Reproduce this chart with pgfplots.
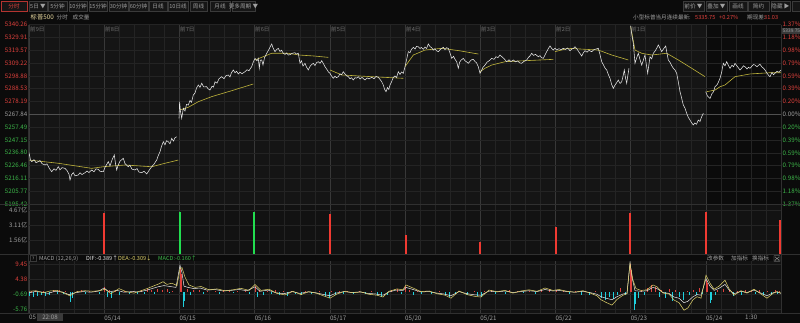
\documentclass[border=0pt]{standalone}
\usepackage{pgfplots}
\pgfplotsset{compat=1.18}
\usepackage{fontspec}
\setmainfont{Noto Sans CJK SC}
\definecolor{bg}{HTML}{0B0B0B}
\definecolor{panel}{HTML}{151515}
\definecolor{gridc}{HTML}{242424}
\definecolor{dayc}{HTML}{383838}
\definecolor{zeroc}{HTML}{505050}
\definecolor{sepc}{HTML}{303030}
\definecolor{upred}{HTML}{E0413C}
\definecolor{dngreen}{HTML}{3DB84A}
\definecolor{lbl}{HTML}{A0A0A0}
\definecolor{dimlbl}{HTML}{707070}
\definecolor{pricec}{HTML}{E6E6E6}
\definecolor{avgc}{HTML}{BFB43C}
\definecolor{cyanc}{HTML}{1FD0DD}
\definecolor{deac}{HTML}{E2D46C}
\definecolor{difc}{HTML}{E8E8E8}
\definecolor{volred}{HTML}{F03A32}
\definecolor{volgreen}{HTML}{22DD50}
\definecolor{tabbg}{HTML}{161616}
\definecolor{tabbd}{HTML}{3A3A3A}
\definecolor{titley}{HTML}{E8D9A0}
\newcommand\tlf{\fontsize{6.2}{7}\selectfont}
\newcommand\smf{\fontsize{5.6}{6.5}\selectfont}
\pgfplotsset{
  panel/.style={
    scale only axis, width=752pt, xmin=0, xmax=752,
    axis line style={draw=none},
    major tick length=0pt, minor tick length=0pt,
    xtick={0,75.2,150.4,225.6,300.8,376,451.2,526.4,601.6,676.8,752},
    minor x tick num=4,
    xmajorgrids, xminorgrids, ymajorgrids,
    major x grid style={dayc,line width=0.5pt},
    minor x grid style={gridc,line width=0.4pt},
    major y grid style={gridc,line width=0.4pt},
    xticklabels={},
    yticklabel style={font=\tlf, anchor=east, inner sep=0pt, xshift=-1.5pt},
    clip=true,
  },
}
\begin{document}
\begin{tikzpicture}[x=1pt,y=1pt]
\fill[bg] (0,0) rectangle (800,323);
\path[use as bounding box] (0,0) rectangle (800,323);
% panel backgrounds
\fill[panel] (29,119) rectangle (705.8,298.4);
\fill[panel!70!bg] (29,68.1) rectangle (781,118);
\fill[panel!70!bg] (29,10) rectangle (781,62);
% ---------------- price panel ----------------
\begin{axis}[panel, at={(29pt,119pt)}, anchor=south west, height=179.4pt,
  ymin=5195.42, ymax=5340.26,
  ytick={5195.42,5205.77,5216.11,5226.46,5236.80,5247.15,5257.49,5267.84,5278.19,5288.53,5298.88,5309.22,5319.57,5329.91,5340.26},
  yticklabels={{\color{dngreen}5195.42},{\color{dngreen}5205.77},{\color{dngreen}5216.11},{\color{dngreen}5226.46},{\color{dngreen}5236.80},{\color{dngreen}5247.15},{\color{dngreen}5257.49},{\color{lbl}5267.84},{\color{upred}5278.19},{\color{upred}5288.53},{\color{upred}5298.88},{\color{upred}5309.22},{\color{upred}5319.57},{\color{upred}5329.91},{\color{upred}5340.26}},
]
\draw[zeroc, line width=0.6pt] (axis cs:0,5267.84) -- (axis cs:752,5267.84);
% average (yellow) lines
\addplot[avgc, line width=0.6pt] coordinates {(0,5230.9)(29.3,5228.3)(62.7,5224.2)(74.3,5225.5)(96,5226.9)(122.7,5225.5)(136,5228.3)(149.3,5230.9)};
\addplot[avgc, line width=0.6pt] coordinates {(151,5271.3)(159.3,5273.5)(169.3,5278.0)(182.7,5282.1)(202.7,5286.9)(224.3,5292.3)};
\addplot[avgc, line width=0.6pt] coordinates {(226,5311.7)(236,5314.9)(242.7,5317.1)(259.3,5317.1)(270,5315.7)(285,5314.9)(299.3,5313.8)};
\addplot[avgc, line width=0.6pt] coordinates {(301,5303.6)(312.7,5299.6)(342.7,5298.2)(374.3,5296.9)};
\addplot[avgc, line width=0.6pt] coordinates {(376,5306.3)(384.3,5315.7)(396,5319.7)(412.7,5321.1)(430,5319.2)(449.3,5316.5)};
\addplot[avgc, line width=0.6pt] coordinates {(451,5302.2)(456,5305.0)(462.7,5307.6)(476,5310.3)(496,5311.1)(524.3,5312.2)};
\addplot[avgc, line width=0.6pt] coordinates {(526,5318.4)(539.3,5321.1)(569.3,5319.7)(582.7,5315.7)(599.3,5311.7)};
\addplot[avgc, line width=0.6pt] coordinates {(601.7,5338.6)(606,5319.7)(612.7,5317.1)(622.7,5315.7)(637.7,5317.1)(649.3,5311.7)(662.7,5305.0)(676,5298.2)};
\addplot[avgc, line width=0.6pt] coordinates {(677.7,5286.1)(686,5287.4)(691,5290.1)(696,5291.5)(706,5298.2)(721,5300.4)(741,5301.4)(752,5301.4)};
% price (white) line
\addplot[pricec, line width=0.55pt] coordinates {
(0,5236.8)(1.5,5231.0)(2.7,5229.6)(5,5231.2)(7,5228.8)(9.3,5229.6)(11,5230.5)(13,5228.0)(16,5226.9)(18,5227.8)(20,5224.6)(22.7,5221.5)(25,5223.8)(27,5222.6)(29.3,5225.5)(31,5223.0)(33,5224.8)(36,5224.2)(38,5222.4)(40,5219.5)(41,5214.8)(42.5,5219.0)(44.3,5220.7)(46,5218.2)(49.3,5218.8)(51,5220.6)(53,5219.2)(56,5220.7)(58,5222.0)(60,5220.8)(62.7,5222.9)(65,5221.4)(67,5223.8)(69.3,5223.4)(71,5221.8)(74.3,5221.5)(76,5225.0)(79.3,5229.6)(81,5226.2)(83,5231.0)(85.3,5235.0)(86.5,5228.0)(87.7,5222.9)(89,5226.5)(91,5230.0)(94.3,5232.3)(96,5228.0)(99.3,5225.5)(101,5226.8)(103,5223.5)(106,5222.9)(108,5224.0)(110,5221.2)(112.7,5220.7)(115,5221.8)(117.7,5219.6)(120,5222.5)(122.7,5225.5)(125,5227.6)(127.7,5230.9)(129,5234.0)(131,5237.6)(132.5,5242.0)(134.3,5245.7)(136,5243.2)(137.5,5246.5)(139.3,5245.7)(141,5244.0)(142.7,5248.4)(144.5,5246.2)(146,5249.0)(147.7,5249.7)};
\addplot[pricec, line width=0.55pt] coordinates {
(150,5264.6)(150.6,5278.0)(151.5,5270.0)(152.7,5264.6)(154.3,5272.7)(156,5270.5)(157.5,5275.8)(159.3,5275.3)(161,5279.0)(162.5,5277.5)(164.3,5283.4)(166,5285.0)(167.5,5289.0)(169.3,5291.5)(171,5289.6)(172.7,5292.9)(174.5,5290.0)(177.7,5290.1)(179,5288.5)(181,5287.4)(183,5290.5)(184.5,5289.8)(186,5294.1)(188,5293.0)(190,5296.5)(192.7,5298.2)(195,5296.6)(197,5299.0)(199.3,5299.6)(201,5298.0)(202.5,5301.5)(204.3,5303.6)(206,5301.4)(207.5,5302.6)(209.3,5300.4)(211,5301.8)(213,5300.6)(216,5302.2)(218,5303.8)(220,5303.0)(222.7,5306.3)(224,5309.5)(226,5313.0)(228,5311.0)(229.3,5313.0)(230.3,5305.0)(231.3,5311.5)(232.7,5311.7)(234,5307.6)(235.5,5313.5)(237.7,5317.1)(239.5,5319.6)(241,5322.0)(242.7,5324.6)(244,5321.5)(246,5318.4)(247.5,5320.0)(249.3,5321.1)(251,5318.5)(252.5,5319.6)(254.3,5317.1)(256,5316.2)(257.5,5317.4)(259.3,5315.7)(261,5316.0)(263,5317.0)(266,5317.6)(267.5,5316.4)(269.3,5317.1)(271,5309.0)(272.5,5311.0)(274,5306.8)(276,5309.0)(277.5,5306.0)(279.3,5303.6)(281,5306.5)(282.5,5307.9)(284.3,5309.0)(286,5307.2)(287.5,5309.5)(289.3,5310.3)(291,5309.0)(292.7,5311.1)(294.5,5308.6)(296,5306.3)(297.5,5304.5)(299.3,5302.2)(301,5300.9)(302.5,5298.8)(304.3,5296.9)(306,5298.6)(307.5,5297.4)(309.3,5298.2)(311,5300.5)(312.5,5299.8)(314.3,5302.2)(316,5300.4)(317.5,5299.0)(319.3,5298.2)(321,5296.5)(322.5,5297.4)(324.3,5295.5)(326,5297.4)(327.5,5297.0)(329.3,5298.2)(331,5296.4)(333,5297.6)(336,5295.5)(338,5297.2)(340,5296.4)(342.7,5297.7)(345,5296.6)(347,5298.4)(349.3,5297.7)(351,5296.0)(352.5,5294.4)(354.3,5291.5)(355.6,5288.0)(357,5286.1)(358.5,5289.4)(359.8,5287.9)(361,5291.5)(362.5,5294.0)(364.3,5297.7)(366,5298.8)(367.5,5297.5)(369.3,5302.2)(371,5300.0)(372.5,5302.0)(374.3,5300.9)(376,5306.3)(377.6,5312.0)(379.3,5318.4)(381,5317.6)(382.5,5320.4)(384.3,5321.9)(386,5320.5)(387.5,5322.6)(389.3,5322.4)(391,5321.0)(392.5,5321.8)(394.3,5320.3)(396,5322.1)(397.6,5321.0)(399.3,5324.6)(401,5322.5)(402.5,5321.7)(404.3,5319.7)(406,5320.8)(407.5,5319.1)(409.3,5318.4)(411,5319.9)(412.5,5321.0)(414.3,5321.9)(416,5320.0)(417.5,5321.6)(419.3,5321.1)(421,5317.4)(422.7,5313.0)(424.5,5314.6)(426,5312.2)(427.7,5310.3)(429.3,5305.0)(430.6,5309.8)(432,5311.5)(434.3,5313.0)(436,5311.0)(437.5,5310.2)(439.3,5309.0)(441,5310.6)(442.5,5311.8)(444.3,5312.2)(446,5310.5)(447.5,5309.4)(449.3,5306.3)(451,5300.9)(452.5,5303.2)(454,5305.8)(456,5307.6)(458,5309.9)(460,5311.0)(462.7,5313.0)(465,5312.2)(467,5314.3)(469,5313.6)(471,5315.7)(473,5314.2)(475,5312.8)(477.7,5310.3)(480,5311.8)(482,5310.4)(484.3,5311.7)(486.5,5310.2)(488.5,5311.0)(490.5,5309.4)(492.7,5309.0)(495,5310.6)(497.7,5311.7)(499.5,5313.8)(501,5315.0)(502.7,5317.1)(504.5,5315.4)(506.5,5316.2)(509.3,5314.3)(511,5315.2)(512.5,5313.6)(514.3,5313.0)(516,5315.8)(517.7,5318.4)(519.3,5320.8)(521,5323.0)(522.7,5321.0)(524.3,5319.7)(526,5321.2)(527.7,5319.7)(530,5320.8)(532,5320.0)(534.3,5321.1)(536.5,5320.2)(538.5,5321.4)(541,5319.2)(543,5320.6)(544.5,5321.0)(546,5322.4)(548,5320.5)(550,5318.0)(551.5,5316.4)(552.7,5314.9)(554.3,5317.5)(556,5319.2)(558,5318.0)(560,5319.4)(562.7,5318.4)(564.5,5319.8)(566.5,5320.4)(569.3,5321.1)(571,5316.0)(572.7,5310.3)(574.5,5307.6)(576,5305.2)(577.7,5303.6)(579.3,5300.0)(581,5296.9)(582.6,5292.0)(584.3,5288.8)(586,5291.4)(587.5,5293.2)(589.3,5295.5)(591,5292.8)(592.7,5294.1)(594,5298.5)(595.3,5303.6)(596.5,5297.2)(597.7,5292.9)(598.8,5299.0)(600,5305.0)};
\addplot[pricec, line width=0.55pt] coordinates {
(601.7,5339.1)(603,5331.0)(604.3,5325.2)(606,5309.0)(607.5,5313.0)(609.3,5317.1)(611,5312.0)(612.7,5307.6)(614.3,5311.5)(616,5315.7)(617.3,5308.0)(618.7,5300.9)(620,5308.4)(621,5314.3)(622.7,5312.6)(624.3,5317.1)(626,5318.8)(627.6,5321.0)(629.3,5323.8)(631,5321.2)(632.7,5318.4)(634.5,5320.6)(636.7,5323.0)(638,5317.0)(639.3,5311.7)(641,5309.8)(642.6,5307.2)(644.3,5305.0)(646,5303.5)(647.7,5300.9)(649.3,5294.0)(651,5286.1)(652.6,5281.0)(654.3,5275.3)(656,5272.8)(657.7,5268.6)(659.3,5265.4)(661,5263.2)(662.6,5261.0)(664.3,5259.2)(665.8,5260.8)(667.5,5259.8)(669.3,5263.2)(671,5262.0)(672.6,5265.8)(674.3,5268.6)};
\addplot[pricec, line width=0.55pt] coordinates {
(676.7,5286.1)(678.5,5282.5)(681,5280.7)(683,5284.6)(684.5,5286.0)(686,5290.1)(688,5291.6)(689.5,5294.0)(691,5296.9)(692.7,5302.0)(694.3,5309.0)(696,5307.0)(697.7,5310.3)(699.3,5307.5)(701,5305.0)(703,5307.5)(704.5,5306.2)(706,5309.0)(708,5306.8)(709.5,5305.2)(711,5303.6)(713,5305.4)(714.5,5307.0)(716,5306.3)(718,5304.4)(719.5,5305.8)(721,5305.0)(723,5306.8)(724.5,5308.0)(726,5307.6)(728,5306.2)(729.5,5307.4)(731,5308.2)(733,5306.0)(734.5,5305.0)(736,5303.6)(738,5301.0)(739.5,5299.4)(741,5298.2)(743,5301.6)(744.5,5299.8)(746,5300.9)(748,5302.6)(750,5301.8)(752,5303.6)};
\end{axis}
% right percent labels
\begin{axis}[scale only axis, at={(29pt,119pt)}, anchor=south west, width=752pt, height=179.4pt,
  xmin=0, xmax=752, ymin=5195.42, ymax=5340.26, hide x axis, axis line style={draw=none},
  major tick length=0pt, yticklabel pos=right,
  ytick={5195.42,5205.77,5216.11,5226.46,5236.80,5247.15,5257.49,5267.84,5278.19,5288.53,5298.88,5309.22,5319.57,5329.91,5340.26},
  yticklabels={{\color{dngreen}1.37\%},{\color{dngreen}1.18\%},{\color{dngreen}0.98\%},{\color{dngreen}0.79\%},{\color{dngreen}0.59\%},{\color{dngreen}0.39\%},{\color{dngreen}0.20\%},{\color{lbl}0.00\%},{\color{upred}0.20\%},{\color{upred}0.39\%},{\color{upred}0.59\%},{\color{upred}0.79\%},{\color{upred}0.98\%},{\color{upred}1.18\%},{\color{upred}1.37\%}},
  yticklabel style={font=\tlf, anchor=west, inner sep=0pt, xshift=1.5pt},
]
\end{axis}
% ---------------- volume panel ----------------
\begin{axis}[panel, at={(29pt,68.1pt)}, anchor=south west, height=49.9pt,
  ymin=0, ymax=5.19,
  ytick={1.56,3.11,4.67},
  yticklabels={{\color{lbl}1.56亿},{\color{lbl}3.11亿},{\color{lbl}4.67亿}},
]
\addplot[ycomb, volred, line width=1.5pt] coordinates {(75,4.37)(301,4.3)(377,2.1)(451,1.3)(527,2.9)(601,4.4)(677,4.5)(751,3.6)};
\addplot[ycomb, volgreen, line width=1.5pt] coordinates {(151,4.47)(225,4.47)};
\end{axis}
% ---------------- MACD panel ----------------
\begin{axis}[panel, at={(29pt,10pt)}, anchor=south west, height=52pt,
  ymin=-6.93, ymax=10.4,
  ytick={-5.76,-0.69,4.38,9.45},
  yticklabels={{\color{dngreen}-5.76},{\color{dngreen}-0.69},{\color{upred}4.38},{\color{upred}9.45}},
  xticklabels={,05/14,05/15,05/16,05/17,05/20,05/21,05/22,05/23,05/24,},
  xticklabel style={font=\tlf, color=lbl, anchor=north west, inner sep=0pt, yshift=-2.2pt},
  extra x ticks={716}, extra x tick labels={1:30}, extra x tick style={grid=none},
]
\addplot[ycomb, upred, line width=0.8pt] coordinates {(2,0.5)(6,0.3)(14,0.4)(24,0.6)(30,0.8)(36,0.4)(48,0.3)(52,0.6)(60,0.5)(66,0.3)(75,1.7)(80,0.6)(86,0.4)(95,0.5)(104,0.3)(112,0.6)(118,1.0)(122,0.8)(128,1.2)(133,0.7)(138,1.0)(143,0.5)(151,8.0)(152,6.0)(158,1.2)(164,0.6)(170,0.8)(178,0.5)(186,0.4)(194,0.6)(200,0.3)(208,0.5)(216,0.4)(226,2.0)(230,0.8)(238,0.4)(246,0.6)(254,0.3)(262,0.5)(276,0.4)(290,0.3)(302,0.5)(310,0.3)(318,0.4)(330,0.5)(342,0.3)(362,0.6)(368,1.0)(376,2.2)(380,0.8)(388,0.5)(396,0.3)(410,0.4)(430,0.5)(445,0.3)(455,0.5)(462,0.8)(470,0.4)(480,0.6)(488,0.3)(500,0.5)(512,0.8)(520,1.0)(527,0.8)(534,0.4)(546,0.5)(556,0.3)(566,0.4)(591,1.5)(601,9.3)(602,7.5)(612,0.8)(618,1.5)(622,2.4)(626,1.8)(632,0.6)(640,1.0)(646,0.8)(658,0.5)(664,0.7)(670,1.5)(677,4.1)(678,3.0)(688,0.8)(694,1.2)(700,0.6)(708,0.5)(716,0.8)(722,0.4)(730,0.6)(738,0.3)(746,0.7)(750,0.5)};
\addplot[ycomb, cyanc, line width=0.8pt] coordinates {(0,-1.2)(4,-1.5)(8,-1.3)(12,-1.0)(16,-1.4)(20,-0.8)(28,-0.5)(34,-0.6)(41,-3.2)(43,-2.0)(56,-0.5)(70,-0.6)(78,-1.5)(82,-2.0)(90,-0.8)(100,-0.5)(108,-0.7)(115,-0.6)(125,-0.5)(140,-0.4)(154,-4.8)(155,-3.0)(161,-1.0)(174,-0.6)(190,-0.5)(204,-0.4)(220,-0.5)(228,-1.5)(234,-1.0)(242,-0.6)(250,-0.8)(258,-1.2)(266,-0.5)(272,-1.0)(282,-0.7)(296,-1.2)(300,-1.8)(306,-0.8)(314,-0.6)(324,-0.5)(336,-0.7)(348,-1.0)(352,-1.5)(358,-0.8)(372,-0.5)(384,-0.8)(392,-0.5)(402,-0.6)(416,-1.0)(420,-1.5)(426,-0.7)(438,-0.8)(448,-1.2)(452,-1.6)(466,-0.5)(476,-0.6)(494,-0.4)(506,-0.5)(540,-0.6)(552,-0.8)(560,-1.0)(572,-2.0)(576,-2.6)(580,-1.5)(584,-2.2)(588,-1.0)(596,-1.0)(605,-6.0)(606,-4.0)(609,-2.0)(615,-1.0)(630,-1.5)(636,-2.0)(643,-3.0)(650,-1.5)(654,-2.5)(660,-1.0)(667,-0.8)(673,-0.6)(681,-3.6)(682,-2.5)(686,-1.0)(704,-1.2)(712,-0.8)(726,-0.6)(734,-1.0)(742,-0.8)(748,-0.5)};
\addplot[difc, line width=0.5pt] coordinates {(0,-0.2)(6,0.2)(12,0.1)(19,-0.4)(26,0.3)(33,0.1)(40,-0.8)(46,-0.2)(54,0.2)(62,0.0)(70,0.4)(75,1.4)(80,0.1)(88,0.6)(95,0.0)(103,0.2)(110,0.1)(117,0.6)(123,1.2)(129,1.8)(135,2.2)(141,1.9)(147,1.6)(151,9.0)(153,6.5)(155,2.0)(159,1.6)(165,1.2)(171,1.4)(178,0.7)(186,0.9)(194,0.4)(202,0.6)(210,0.9)(218,0.5)(226,1.8)(231,0.3)(239,0.7)(247,-0.2)(255,-0.5)(263,0.2)(271,-0.4)(279,0.1)(287,-0.2)(295,-0.8)(301,-1.2)(307,-0.3)(315,0.2)(323,-0.1)(331,0.1)(339,-0.4)(347,-0.6)(354,-1.0)(360,0.1)(367,0.7)(374,0.6)(377,1.6)(384,0.9)(392,0.1)(400,0.2)(408,-0.3)(415,-0.6)(422,-1.2)(430,0.2)(438,-0.5)(446,-0.9)(452,-1.0)(460,0.4)(468,0.1)(476,0.4)(484,-0.1)(492,0.2)(500,0.5)(508,0.2)(516,0.9)(524,0.4)(530,0.6)(538,0.2)(546,0.0)(554,0.3)(562,-0.2)(568,-0.7)(572,-1.5)(577,-2.0)(583,-2.5)(588,-1.5)(594,-0.6)(598,-0.3)(601,9.8)(603,5.0)(606,0.5)(612,0.3)(618,0.5)(624,1.6)(628,1.2)(634,-0.1)(640,-0.4)(645,-1.6)(650,-2.0)(655,-3.5)(659,-3.0)(664,-1.5)(668,-0.8)(672,-1.0)(677,4.5)(681,2.0)(685,0.6)(690,1.3)(696,2.6)(700,0.8)(705,-0.5)(712,0.3)(718,-0.1)(725,0.7)(732,-0.3)(738,-1.2)(744,-0.2)(748,0.1)(752,-0.39)};
\addplot[deac, line width=0.5pt] coordinates {(0,0.3)(7,0.5)(14,-0.2)(21,0.4)(28,0.6)(35,-0.3)(41,-1.2)(48,0.2)(56,0.5)(64,0.3)(72,0.6)(76,1.0)(82,-0.5)(90,1.2)(97,0.2)(105,-0.3)(112,0.5)(118,1.2)(124,2.0)(130,2.8)(134,3.5)(138,2.6)(143,3.0)(148,2.2)(151,7.8)(153,8.2)(156,5.0)(160,2.4)(166,1.6)(172,1.9)(180,0.8)(188,1.1)(196,0.5)(204,0.8)(212,1.3)(220,0.6)(226,2.6)(232,0.6)(240,1.0)(248,-0.4)(256,-0.9)(264,0.3)(272,-0.8)(280,0.2)(288,-0.4)(296,-1.4)(301,-2.0)(308,-0.6)(316,0.3)(324,-0.2)(332,0.1)(340,-0.7)(348,-1.0)(354,-1.6)(360,0.3)(368,1.1)(374,0.8)(377,2.4)(384,1.4)(392,0.2)(400,0.4)(408,-0.5)(416,-1.0)(422,-2.0)(430,0.4)(438,-0.8)(446,-1.4)(452,-1.6)(460,0.7)(468,0.2)(476,0.6)(484,-0.3)(492,0.4)(500,0.8)(508,0.3)(516,1.4)(524,0.6)(530,0.9)(538,0.3)(546,0.0)(554,0.5)(562,-0.4)(568,-1.2)(572,-2.5)(577,-3.4)(583,-4.3)(588,-2.4)(594,-1.0)(598,-0.5)(601,9.5)(604,4.0)(607,1.2)(612,0.6)(618,0.8)(624,2.4)(628,1.8)(634,-0.3)(640,-0.6)(645,-2.6)(650,-3.5)(655,-6.0)(659,-5.2)(664,-2.5)(668,-1.5)(672,-2.0)(677,5.7)(681,3.0)(685,1.0)(690,2.0)(696,4.0)(700,1.2)(705,-1.0)(712,0.5)(718,-0.3)(725,1.0)(732,-0.6)(738,-2.0)(744,-0.4)(748,0.2)(752,-0.31)};
\end{axis}
% ---------------- frame / separators ----------------
\draw[sepc, line width=0.5pt] (0,118.5) -- (800,118.5);
\draw[sepc, line width=0.5pt] (0,68.3) -- (800,68.3);
\draw[sepc, line width=0.5pt] (0,10) -- (800,10);
\draw[sepc, line width=0.5pt] (28.7,10) -- (28.7,298.4);
\draw[sepc, line width=0.5pt] (781.3,10) -- (781.3,298.4);
% day labels
\foreach \px/\t in {30/前9日,105/前8日,180/前7日,255/前6日,331/前5日,406/前4日,481/前3日,556/前2日,631/前1日}
  \node[font=\smf, text=dimlbl, anchor=west, inner sep=0pt] at (\px,294) {\t};
% current price tag top right
\fill[tabbd] (782,289.2) rectangle (800,295.4);
\node[font=\fontsize{4.8}{5.5}\selectfont, text=lbl, anchor=west, inner sep=0pt] at (782.6,292.3) {5339.75};
% ---------------- toolbar ----------------
\foreach \a/\b/\t in {29/47/5日 ▼,48/67/5分钟,69/87/10分钟,89/107/15分钟,109/128/30分钟,129/148/60分钟,149/167/日线,168/188/10日线,190/207/周线,210/230/月线,232/255/更多周期 ▼,683/704/前价 ▼,706/727/叠加 ▼,729/747/画线,748/769/简约,771/790/隐藏 ▶}{
  \filldraw[fill=tabbg, draw=tabbd, line width=0.4pt] (\a,311.5) rectangle (\b,321.5);
  \node[font=\smf, text=lbl, inner sep=0pt] at ({(\a+\b)/2},316.5) {\t};
}
\filldraw[fill=tabbg, draw=upred!80!black, line width=0.5pt] (0.8,311.5) rectangle (27,321.5);
\node[font=\smf, text=upred, inner sep=0pt] at (14,316.5) {分时};
\filldraw[fill=tabbg, draw=tabbd, line width=0.4pt] (792,311.5) rectangle (800,321.5);
% title row
\node[font=\fontsize{6.3}{7}\selectfont, text=titley, anchor=west, inner sep=0pt] at (30.5,305.7) {标普500};
\node[font=\smf, text=lbl, anchor=west, inner sep=0pt] at (56.5,305.7) {分时};
\node[font=\smf, text=lbl, anchor=west, inner sep=0pt] at (72.5,305.7) {成交量};
\node[font=\smf, text=lbl, anchor=west, inner sep=0pt] at (633,305.7) {小型标普当月连续最新:};
\node[font=\smf, text=upred, anchor=west, inner sep=0pt] at (695,305.7) {5335.75};
\node[font=\smf, text=upred, anchor=west, inner sep=0pt] at (719,305.7) {+0.27\%};
\node[font=\smf, text=lbl, anchor=west, inner sep=0pt] at (747,305.7) {期现差:};
\node[font=\smf, text=upred, anchor=west, inner sep=0pt] at (764,305.7) {31.03};
% MACD header
\fill[bg] (29,62.3) rectangle (781,68);
\draw[tabbd, line width=0.4pt] (30,61.5) rectangle (36.5,67.5);
\node[font=\fontsize{4.5}{5}\selectfont, text=lbl, inner sep=0pt] at (33.25,64.5) {?};
\node[font=\smf, text=lbl, anchor=west, inner sep=0pt] at (39,64.5) {MACD (12,26,9)};
\node[font=\smf, text=difc, anchor=west, inner sep=0pt] at (86,64.5) {DIF:-0.389↑};
\node[font=\smf, text=deac, anchor=west, inner sep=0pt] at (118,64.5) {DEA:-0.309↓};
\node[font=\smf, text=dngreen, anchor=west, inner sep=0pt] at (158,64.5) {MACD:-0.160↑};
\node[font=\smf, text=lbl, anchor=west, inner sep=0pt] at (707,64.5) {改参数};
\node[font=\smf, text=lbl, anchor=west, inner sep=0pt] at (731,64.5) {加指标};
\node[font=\smf, text=lbl, anchor=west, inner sep=0pt] at (752,64.5) {换指标};
\draw[lbl, line width=0.4pt] (774,61.8) rectangle (780,67.2) (775,62.8) -- (779,66.2) (775,66.2) -- (779,62.8);
% bottom cursor label
\node[font=\tlf, text=lbl, anchor=west, inner sep=0pt] at (29,5.5) {05};
\fill[tabbd] (37,1.5) rectangle (63,9.5);
\node[font=\tlf, text=lbl, inner sep=0pt] at (50,5.5) {22:08};
\end{tikzpicture}
\end{document}
